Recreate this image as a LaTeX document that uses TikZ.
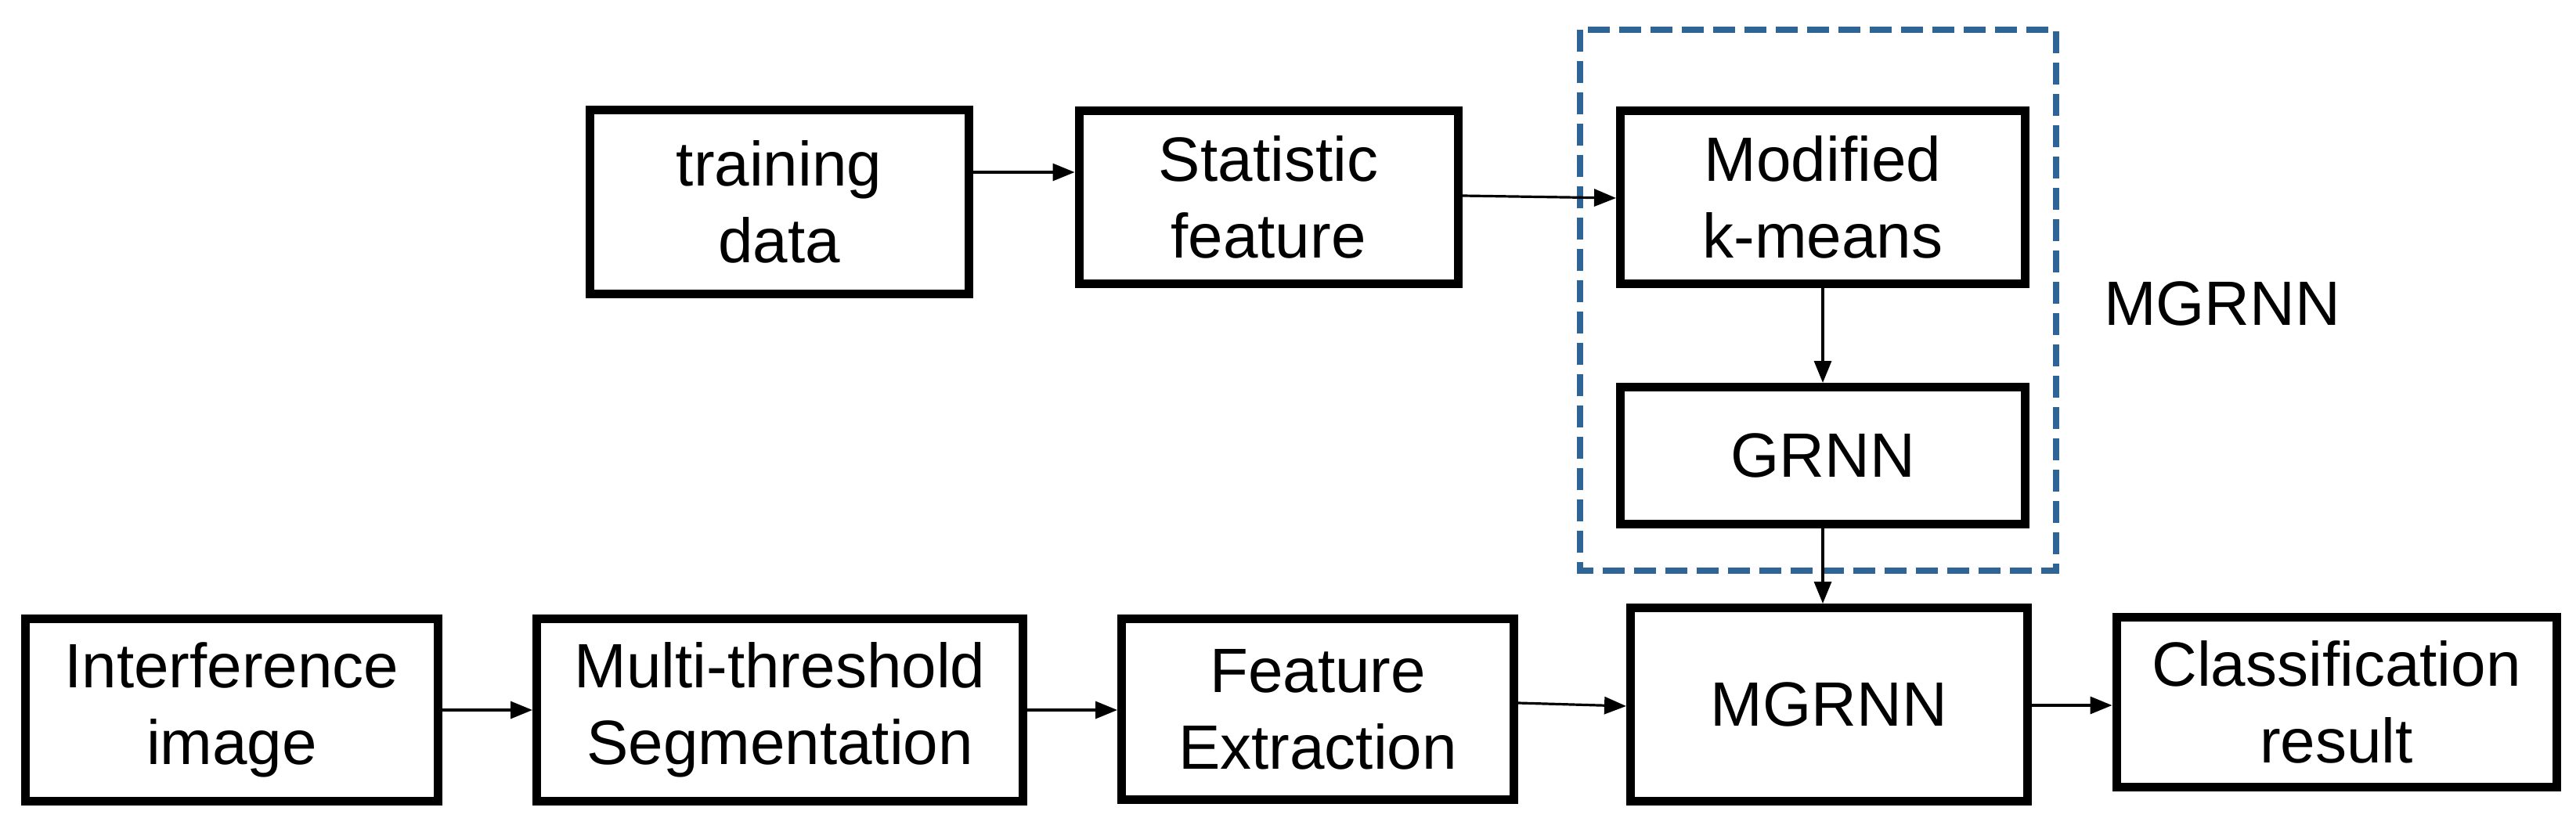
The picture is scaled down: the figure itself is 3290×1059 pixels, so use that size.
\documentclass[tikz,border=0pt]{standalone}
\usepackage{fontspec}
\setmainfont{Liberation Sans}
\usetikzlibrary{arrows.meta}
\definecolor{dblue}{RGB}{46,100,150}
\begin{document}
\begin{tikzpicture}[x=0.5pt,y=-0.5pt,
  box/.style={draw,line width=5.5pt,align=center,inner sep=0pt,
    font=\fontsize{40}{49}\selectfont},
  arr/.style={line width=1.6pt,-{Triangle[length=14pt,width=11pt]}}]
\useasboundingbox (0,0) rectangle (3290,1059);
\newcommand{\bx}[6]{\node[box,minimum width=#4*0.5pt-5.5pt,minimum height=#5*0.5pt-5.5pt] (#1) at (#2,#3) {#6};}
\bx{train}{995}{258}{495}{245}{training\\data}
\bx{stat}{1620}{252}{495}{232}{Statistic\\feature}
\bx{mod}{2328}{252}{528}{232}{Modified\\k-means}
\bx{grnn}{2328}{582}{528}{186}{GRNN}
\bx{img}{296}{907}{538}{244}{Interference\\image}
\bx{seg}{996}{907}{632}{244}{Multi-threshold\\Segmentation}
\bx{fe}{1683}{906}{512}{242}{Feature\\Extraction}
\bx{mg}{2336}{900}{518}{258}{MGRNN}
\bx{cls}{2984}{897}{573}{228}{Classification\\result}
\draw[dblue,line width=4pt,dash pattern=on 14pt off 6pt] (2018,38) rectangle (2626,729);
\node[font=\fontsize{40}{49}\selectfont,anchor=west] (lbl) at (2680,388) {MGRNN};
\draw[arr] (train.east |- 0,220) -- (stat.west |- 0,220);
\draw[arr] (stat.east |- 0,250) -- (mod.west |- 0,253);
\draw[arr] (mod.south) -- (grnn.north);
\draw[arr] (grnn.south) -- (mg.north -| grnn.south);
\draw[arr] (img.east |- 0,907) -- (seg.west |- 0,907);
\draw[arr] (seg.east |- 0,907) -- (fe.west |- 0,907);
\draw[arr] (fe.east |- 0,898) -- (mg.west |- 0,902);
\draw[arr] (mg.east |- 0,901) -- (cls.west |- 0,901);
\end{tikzpicture}
\end{document}
